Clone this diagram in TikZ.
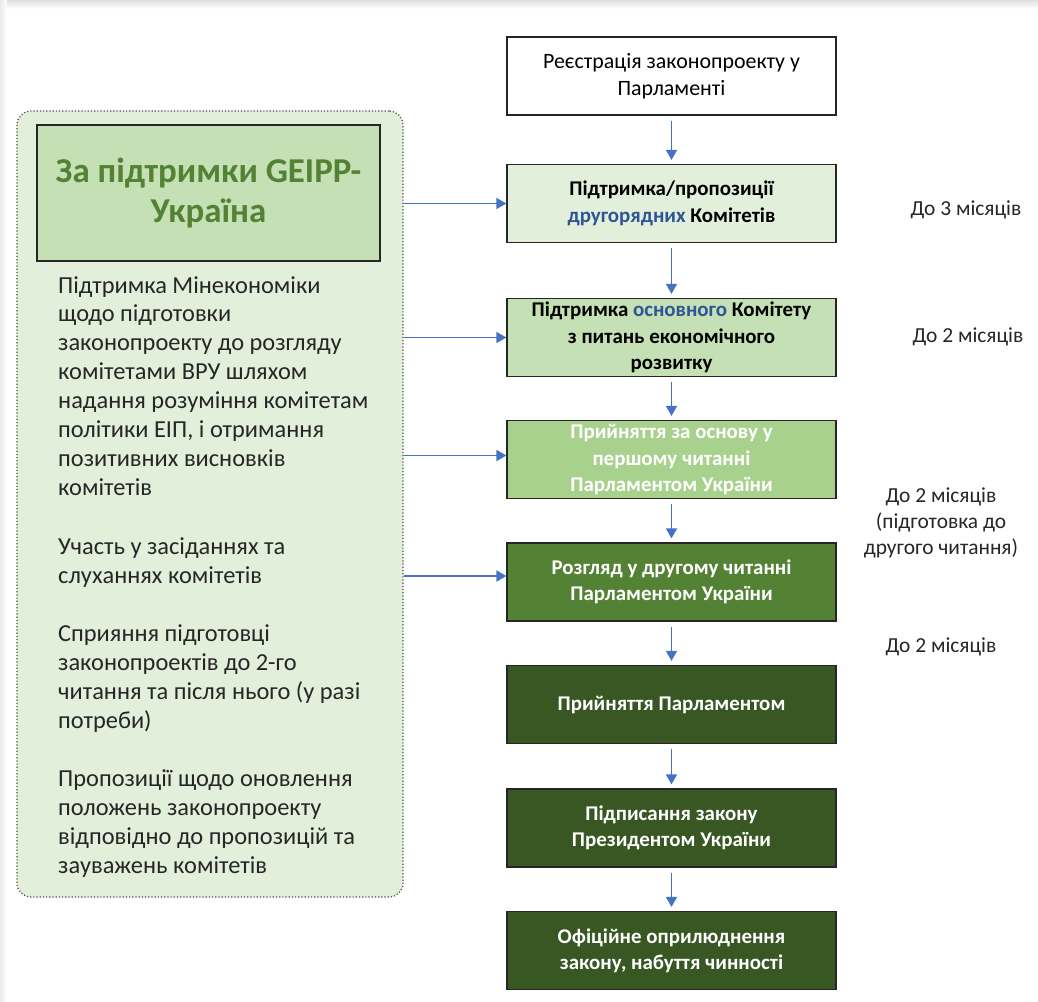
\documentclass[tikz,border=0pt]{standalone}
\usepackage{fontspec}
\setmainfont{Carlito}
\usetikzlibrary{arrows.meta,calc}
\definecolor{arrowblue}{HTML}{4472C4}
\definecolor{wordblue}{HTML}{2F5597}
\definecolor{pale}{HTML}{E2EFDA}
\definecolor{midg}{HTML}{C5E0B4}
\definecolor{lightg}{HTML}{A9D18E}
\definecolor{greeng}{HTML}{548235}
\definecolor{darkg}{HTML}{385723}
\definecolor{bordergray}{HTML}{262626}
\tikzset{
  every node/.style={inner sep=0pt},
  stepbox/.style={draw=bordergray, line width=1.2bp, minimum width=329bp, minimum height=78bp, align=center,
     font=\fontsize{21}{26.5}\selectfont\bfseries},
  arr/.style={draw=arrowblue, line width=1.6bp, -{Triangle[width=11bp,length=10bp]}},
  sidelabel/.style={align=center, font=\fontsize{21.5}{26}\selectfont, text=black!85},
}
\begin{document}
\begin{tikzpicture}[x=1bp,y=-1bp]
\useasboundingbox (0,0) rectangle (1038,1002);
\fill[white] (0,0) rectangle (1038,1002);
\shade[top color=black!12, bottom color=white] (0,0) rectangle (1038,9);
\shade[left color=black!8, right color=white] (0,0) rectangle (7,1002);

% left panel
\node[draw=black!70, dotted, line width=1.2bp, fill=pale, rounded corners=14bp,
  minimum width=386bp, minimum height=786bp] (panel) at (210,504) {};
\node[draw=bordergray, line width=1.2bp, fill=midg, minimum width=343bp, minimum height=136bp,
  align=center, font=\fontsize{35}{41}\selectfont\bfseries, text=greeng] (head) at (208.5,193)
  {За підтримки GEIPP-\\Україна};
\node[anchor=north west, align=left, font=\fontsize{24.5}{29.1}\selectfont, text=black!85] (lefttext) at (58,276)
  {Підтримка Мінекономіки\\щодо підготовки\\законопроекту до розгляду\\комітетами ВРУ шляхом\\надання розуміння комітетам\\політики ЕІП, і отримання\\позитивних висновків\\комітетів\\[29.1bp]
   Участь у засіданнях та\\слуханнях комітетів\\[29.1bp]
   Сприяння підготовці\\законопроектів до 2-го\\читання та після нього (у разі\\потреби)\\[29.1bp]
   Пропозиції щодо оновлення\\положень законопроекту\\відповідно до пропозицій та\\зауважень комітетів};

% main flow
\node[stepbox, fill=white, font=\fontsize{22}{27}\selectfont] (b1) at (671.5,76) {Реєстрація законопроекту у\\Парламенті};
\node[stepbox, fill=pale] (b2) at (671.5,203.5) {Підтримка/пропозиції\\{\color{wordblue}другорядних} Комітетів};
\node[stepbox, fill=midg] (b3) at (671.5,337.5) {Підтримка {\color{wordblue}основного} Комітету\\з питань економічного\\розвитку};
\node[stepbox, fill=lightg, text=white] (b4) at (671.5,459.5) {Прийняття за основу у\\першому читанні\\Парламентом України};
\node[stepbox, fill=greeng, text=white] (b5) at (671.5,582) {Розгляд у другому читанні\\Парламентом України};
\node[stepbox, fill=darkg, text=white] (b6) at (671.5,704.5) {Прийняття Парламентом};
\node[stepbox, fill=darkg, text=white] (b7) at (671.5,828) {Підписання закону\\Президентом України};
\node[stepbox, fill=darkg, text=white] (b8) at (671.5,950.5) {Офіційне оприлюднення\\закону, набуття чинності};

\foreach \a/\b in {b1/b2,b2/b3,b3/b4,b4/b5,b5/b6,b6/b7,b7/b8}
  \draw[arr, shorten <=5bp, shorten >=4bp] (\a.south) -- (\b.north);

% horizontal connectors
\draw[arr] (panel.east |- b2.west) -- (b2.west);
\draw[arr] (panel.east |- b3.west) -- (b3.west);
\draw[arr] ($(panel.east |- b4.west)+(0,-4)$) -- ($(b4.west)+(0,-4)$);
\draw[arr] ($(panel.east |- b5.west)+(0,-6)$) -- ($(b5.west)+(0,-6)$);

% durations
\node[sidelabel] (d1) at (966,210) {До 3 місяців};
\node[sidelabel] (d2) at (968,337) {До 2 місяців};
\node[sidelabel] (d3) at (941,523) {До 2 місяців\\(підготовка до\\другого читання)};
\node[sidelabel] (d4) at (941,647) {До 2 місяців};
\end{tikzpicture}
\end{document}
